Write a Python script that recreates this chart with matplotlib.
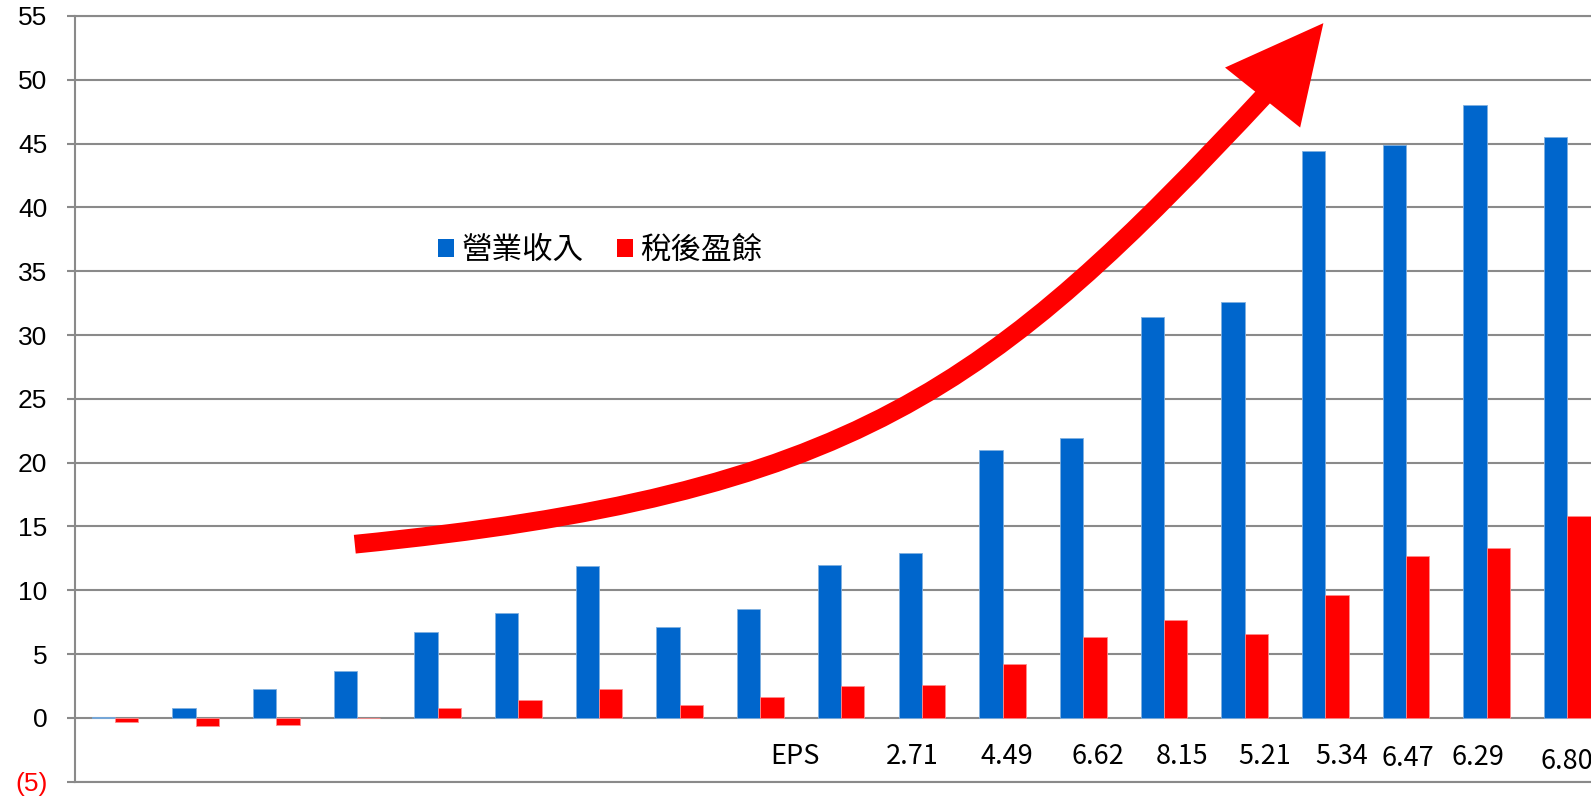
"""Revenue vs. net income bar chart with a big growth arrow."""

import matplotlib
matplotlib.use("Agg")
import matplotlib.pyplot as plt
from matplotlib.patches import Patch, PathPatch, Polygon
from matplotlib.path import Path

plt.rcParams["font.family"] = ["Liberation Sans", "Noto Sans CJK TC", "DejaVu Sans"]

# --- data -------------------------------------------------------------
periods = list(range(19))
revenue = [0.1, 0.8, 2.3, 3.7, 6.7, 8.2, 11.9, 7.1, 8.5, 12.0,
           12.9, 21.0, 21.9, 31.4, 32.6, 44.4, 44.9, 48.0, 45.5]
net_income = [-0.3, -0.65, -0.55, 0.0, 0.8, 1.4, 2.3, 1.0, 1.6, 2.5,
              2.6, 4.2, 6.3, 7.7, 6.6, 9.6, 12.7, 13.3, 15.8]
series_names = ["營業收入", "稅後盈餘"]

eps_labels = ["EPS", "2.71", "4.49", "6.62", "8.15", "5.21", "5.34", "6.47", "6.29", "6.80"]
eps_x = [8.43, 9.88, 11.05, 12.18, 13.22, 14.25, 15.2, 16.02, 16.89, 18.0]
eps_y = [-3.0, -3.0, -3.0, -3.0, -3.0, -3.0, -3.0, -3.2, -3.1, -3.4]

yticks = list(range(-5, 60, 5))
ytick_labels = ["(5)"] + [str(v) for v in yticks[1:]]

BLUE = "#0066CC"
RED = "#FF0000"
GRID = "#8a8a8a"

# --- figure -----------------------------------------------------------
fig = plt.figure(figsize=(15.91, 7.96), dpi=100)
ax = fig.add_axes([0.04714, 0.01796, 0.95286, 0.96194])

width = 0.289
ax.bar([x - width / 2 for x in periods], revenue, width=width, color=BLUE,
       edgecolor="#7fb0e0", linewidth=0.6, zorder=3)
ax.bar([x + width / 2 for x in periods], net_income, width=width, color=RED,
       edgecolor="#ff8c8c", linewidth=0.6, zorder=3)

ax.set_xlim(-0.4958, 18.294)
ax.set_ylim(-5, 55)
ax.set_xticks([])
ax.set_yticks(yticks)
ax.set_yticklabels(ytick_labels)

ax.yaxis.grid(True, color=GRID, linewidth=1.5)
ax.set_axisbelow(True)
ax.tick_params(axis="y", length=5.8, width=1.5, color=GRID, pad=14,
               labelsize=19, labelcolor="black")
ax.get_yticklabels()[0].set_color("red")

ax.spines["right"].set_visible(False)
for side in ("left", "bottom", "top"):
    ax.spines[side].set_color(GRID)
    ax.spines[side].set_linewidth(1.5)

# EPS row
for s, x, y in zip(eps_labels, eps_x, eps_y):
    ax.text(x, y, s, ha="center", va="center", fontsize=19.5,
            family=["Noto Sans CJK TC", "DejaVu Sans"], clip_on=False)

# growth arrow (decoration)
shaft = Path([(2.972, 13.61), (9.163, 17.53), (10.839, 25.67), (14.266, 48.9)],
             [Path.MOVETO, Path.CURVE4, Path.CURVE4, Path.CURVE4])
ax.add_patch(PathPatch(shaft, fill=False, edgecolor=RED, linewidth=13.5,
                       capstyle="butt", zorder=5))
ax.add_patch(Polygon([(13.758, 50.96), (14.977, 54.44), (14.689, 46.26)],
                     closed=True, facecolor=RED, edgecolor="none", zorder=5,
                     clip_on=False))

# legend
handles = [Patch(facecolor=BLUE), Patch(facecolor=RED)]
fig.legend(handles, series_names, ncol=2, loc="center left",
           bbox_to_anchor=(0.2753, 0.6859), frameon=False,
           prop={"family": ["Noto Sans CJK TC"], "size": 22},
           handlelength=0.52, handleheight=0.52, handletextpad=0.26,
           columnspacing=1.08, borderpad=0, borderaxespad=0)

fig.savefig("out.png", dpi=100, facecolor="white")
